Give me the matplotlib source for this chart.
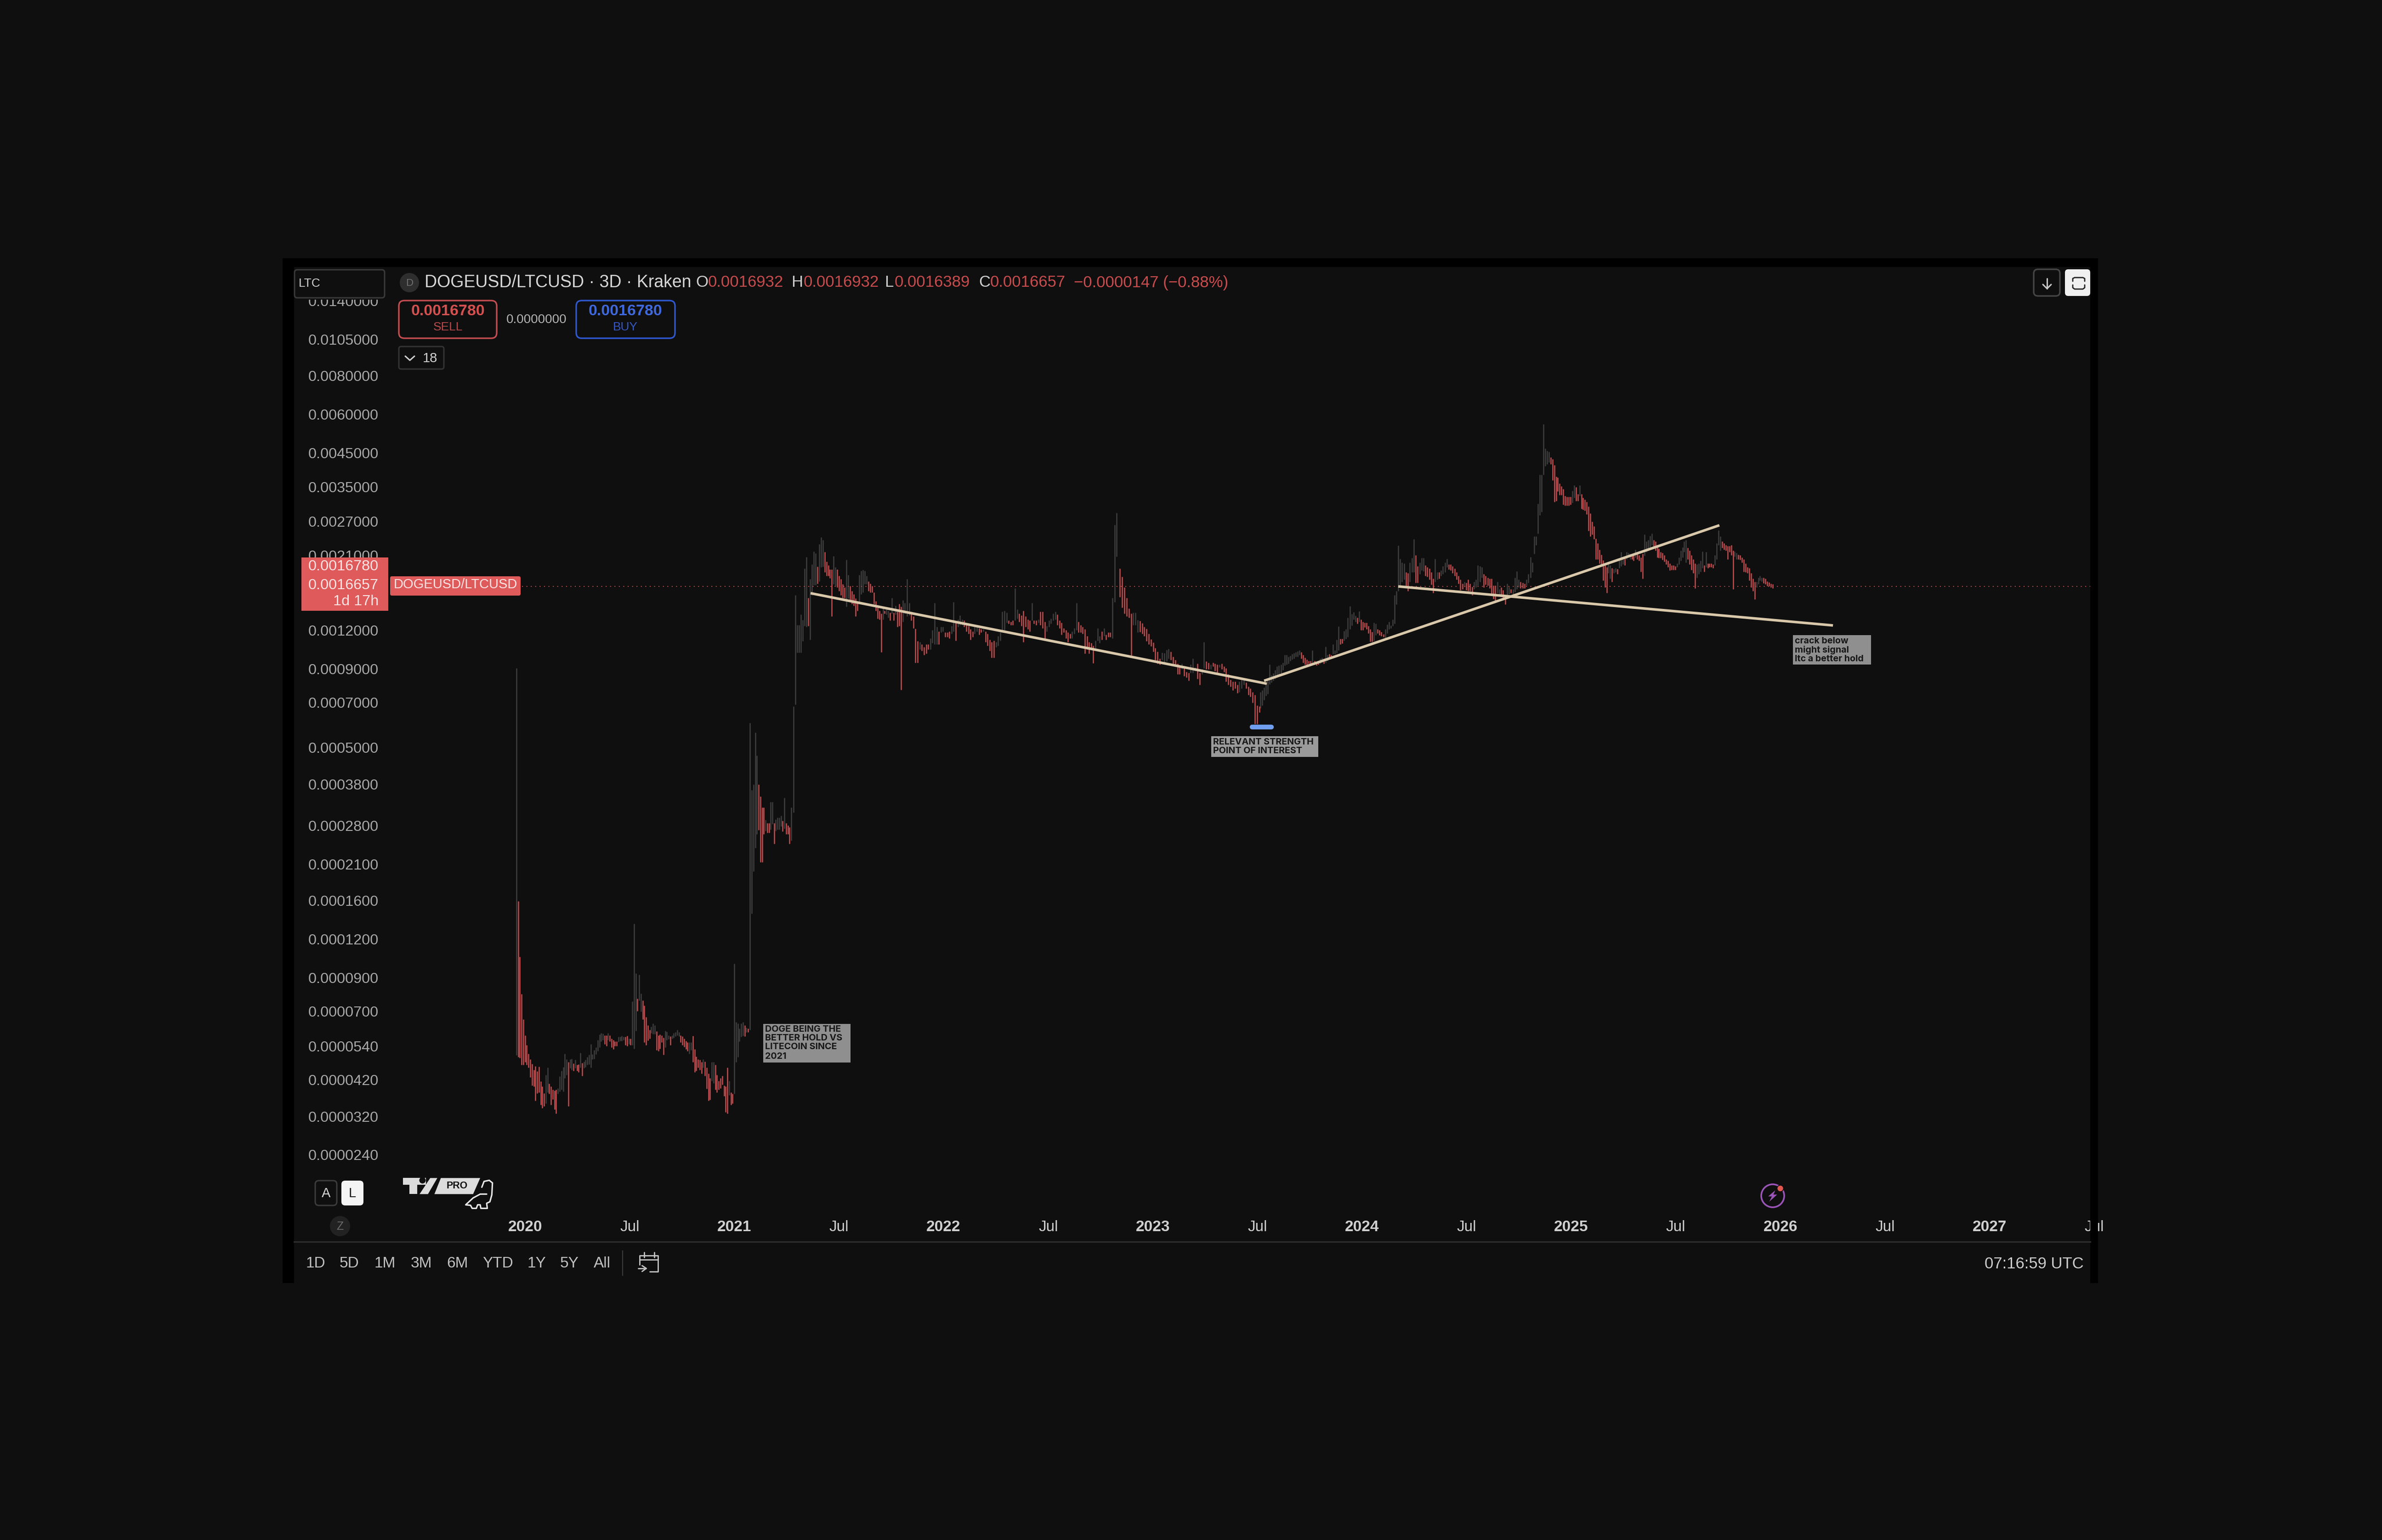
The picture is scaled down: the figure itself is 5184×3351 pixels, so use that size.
import numpy as np
import matplotlib
matplotlib.use("Agg")
import matplotlib.pyplot as plt
from matplotlib.patches import FancyBboxPatch, Rectangle, Circle, Polygon
from matplotlib.ticker import NullLocator, FixedLocator

plt.rcParams['font.family'] = ['Liberation Sans', 'DejaVu Sans']

# ---- price data: (high, low, is_red); prices in units of 1e-7 ----
PRICE_UNIT = 1e-7
era_a = [(9040,505,0),(1590,498,1),(1050,495,1),(795,470,1),(660,470,1),(585,480,1),(545,470,1),(510,460,1),(490,428,1),(473,402,1),(452,400,1),(465,360,1),(447,380,1),(463,382,1),(415,349,1),(400,340,1),(380,345,1),(435,352,0),(460,382,0),(408,378,1),(400,349,1),(391,363,1),(388,337,1),(391,327,1),(395,378,0),
(431,385,0),(450,390,0),(462,385,0),(510,425,0),(490,436,0),(480,345,1),(490,458,0),(492,452,0),(475,450,1),(487,458,0),(470,450,1),(472,445,1),(514,460,0),(477,432,1),(482,458,0),(487,462,0),(498,470,0),(507,472,0),(548,460,0),(508,490,0),(525,492,0),(535,508,0),(565,520,0),(590,535,0),(595,560,0),(593,565,0),(585,548,1),(585,540,1),(595,565,0),(585,560,1),(572,535,1),(565,527,1),(560,540,1),(560,540,1),(578,558,0),(578,562,0),(582,562,0),(578,566,0),(578,545,1),(582,540,1),(572,548,0),(572,545,1),(755,545,0),(1345,530,0),(930,605,0),(770,702,1),(920,760,0),(800,700,0),(760,660,1),(730,555,1),(672,545,1),(630,563,1),(610,572,1),(625,595,0),(640,592,0),(630,592,0),(603,525,1),(585,520,1),(590,530,1),(585,555,1),(575,506,1),(605,535,0),(602,565,0),(585,570,0),(580,545,1),(585,572,0),(595,575,0),(600,580,0),(610,585,0),(600,580,0),(585,555,1),(580,545,1),(572,537,1),(562,527,1),(555,520,1),(555,510,0),(555,525,0),(583,480,1),(527,445,1),(500,450,1),(490,460,1),(487,452,1),(480,440,1),(490,460,0),(482,432,1),(460,393,1),(440,360,1),(425,362,1),(480,417,0),(480,410,0),(470,390,1),(436,382,1),(417,390,1),(425,395,1),(432,405,1),(403,372,1),(400,330,1),(460,327,1),(417,375,0),(382,349,1),(378,352,1),(1000,378,0),(645,480,0),(640,498,0),(615,560,0),(640,578,0),(645,582,0),(630,580,1),(620,600,0),(615,600,1),(6010,610,0)]
era_b = [(3650,1450,0),(3800,1990,0),(5600,2370,0),(4720,2620,0),(3800,2710,1),(3470,2130,1),(3200,2130,1),(3200,2620,1),(2920,2690,0),(2850,2650,1),(2850,2650,1),(3330,2720,0),(3330,2830,0),(2850,2440,1),(2930,2690,0),(2970,2720,0),(2970,2720,0),(3010,2780,0),(2900,2680,1),(3440,2730,0),(2850,2620,1),(2800,2620,1),(2760,2440,1),(3200,2500,0)]
era_c1 = [(6800,3080,0),(15600,6900,0),(12490,10170,0),(12490,10170,0),(13500,10170,0),(12970,11070,0),(19000,12400,0),(20700,12300,0),(15300,12400,1),(17600,11200,0),(19600,15600,0),(21600,16800,0),(21300,16800,0),(19300,17000,1),(22800,17300,0),(24000,19200,0),(23500,19300,0),(21500,18500,1),(20000,18000,1),(19500,18000,1),(18900,17700,1),(18900,13300,1),(20900,16900,0),(19200,16700,0),(18900,16500,1),(18000,16100,1),(17600,15600,1),(16900,15300,1),(16500,15300,1),(20300,14300,0),(18100,15200,0),(16700,15000,1),(16100,14600,1),(15700,14400,1),(15200,13300,1),(14700,13900,1),(18100,14600,0),(18700,15700,0),(18800,15900,0),(18700,16900,0),(18000,16900,0),(17300,16100,1),(17000,15900,1),(16700,15900,1),(15900,14600,1),(14900,13900,1),(14200,13100,1),(13900,13000,1),(13600,10200,1),(14200,13000,0),(13900,13600,1),(14000,13500,0),(13900,13200,0),(13700,12900,1),(15300,13600,0),(13700,12900,1),(14400,13500,0),(13800,12300,1),(14600,12400,1),(14300,7700,1)]
era_c2 = [(15000,12800,0),(14700,13600,0),(17600,13300,0),(14700,13400,0),(13800,12900,1),(13300,12200,1),(12150,9420,1),(11060,9420,1),(11000,10400,0),(10800,10300,1),(10600,10000,1),(10800,10100,1),(10800,10400,1),(11300,10400,0),(12000,10900,0),(14700,10800,0),(12300,10800,0),(11900,10800,1),(12300,11800,0),(12300,11900,0),(11800,11400,1),(11800,11400,1),(11900,11300,1),(12400,11700,0),(14800,11900,0),(12700,11100,1),(13000,12300,0),(13400,12500,0),(13000,12500,0),(12900,12300,1),(12500,11900,1),(12400,11700,1),(12100,11200,1),(11900,11400,1),(12400,11700,0),(12300,11900,0),(12200,11600,1),(12100,11800,1),(12100,11900,0),(11900,11000,1),(11700,10700,1),(11200,10300,1),(11000,9800,1),(11100,9800,1),(11000,10600,0),(11500,10700,0),(11800,11100,0),(13800,11800,0),(13900,12000,0),(13700,12700,0),(12900,12600,1),(12800,12500,1),(12900,12500,1),(16400,12900,0),(14000,13100,0),(13600,12800,1),(13400,12400,1),(13900,11000,1),(13300,12300,1),(13000,12100,1),(12900,11900,1),(14700,12900,0),(12900,12600,1),(12900,12500,1),(13000,12700,0),(13800,12500,1),(13800,12200,1),(12800,11200,1),(12400,11900,0),(12900,12300,0),(13100,12600,0),(13600,12900,0),(13800,13000,0),(13500,12500,1),(12900,12200,1),(12700,11600,1),(12200,11800,1),(12000,11300,1),(11800,11000,1),(11700,11300,1),(11900,11300,0),(12200,11700,0),(14700,12000,0),(12800,11800,1),(12500,11800,1),(12300,11700,1),(12100,10100,1),(11500,10400,1),(11000,10100,1),(10900,10400,1),(10700,9400,1),(11100,10500,0),(12200,11100,0),(11500,10900,0),(11900,11200,1),(12200,11500,0),(11600,11200,1),(11800,11400,1),(11800,11400,1),(15300,11300,0),(26300,14800,0),(28800,20800,0)]
era_c3 = [(19000,15400,1),(17900,14200,1),(16500,13600,1),(15300,13300,1),(14100,13200,1),(13600,9950,1),(13700,12500,0),(13700,12500,0),(12970,11800,0),(12880,11870,1),(12650,11700,1),(12300,11500,1),(12150,11060,1),(11700,10800,1),(11230,10660,1),(10950,10240,1),(10520,9610,1),(10240,9360,1),(9720,9300,1),(10170,9610,0),(10130,9460,0),(10380,9520,0),(10450,9720,0),(10240,9610,1),(9850,9360,1),(9610,9170,1),(9360,8650,1),(9240,8650,1),(9360,8980,0),(9050,8540,1),(8800,8430,1),(8740,8250,1),(9300,8740,0),(9720,8740,0),(9110,8860,0),(9360,8360,1),(8740,8000,1),(8980,8650,0),(10980,9050,0),(9520,8980,1),(9420,8980,1),(9300,8980,0),(9420,9170,1),(9360,8860,1),(9300,8740,1),(9300,9110,0),(9360,8980,1),(9170,8800,1),(9050,8200,1),(8650,8000,1),(8310,7890,1),(8200,7680,1),(8200,7780,1),(8000,7520,1),(8200,7570,0),(8310,7780,0),(8360,8000,0),(8130,7780,1),(7890,7400,1),(7780,7300,1),(7570,7000,1),(7400,5980,1),(6850,5980,1),(6810,6510,1)]
era_d1 = [(7570,6720,0),(7680,6860,0),(7840,7150,0),(8030,7370,0),(8250,7470,0),(9300,8030,0),(8600,8130,0),(8710,8250,0),(8920,8360,0),(9170,8490,0),(9240,8600,0),(9300,8710,0),(9420,8920,0),(9990,9240,0),(9990,9300,0),(9850,9360,0),(9920,9550,0),(10060,9640,0),(10130,9720,0),(10200,9850,0),(10270,9850,0),(10340,9990,0),(10200,9720,1),(9990,9420,1),(9790,9300,1),(9640,9240,1),(9550,9360,1),(9550,9300,1),(10340,9360,0),(9550,9300,1),(9490,9240,1),(9420,9300,1),(9720,9360,0),(9790,9420,0),(9720,9360,1),(10620,9420,0),(9990,9550,0),(10060,9790,1),(9990,9720,1),(10800,10060,0),(10340,10060,0),(11180,10130,0),(12340,10340,0),(11270,10800,1),(11270,10880,1),(11950,11100,0),(12110,11270,0),(13200,11430,0),(14370,12110,0),(13560,12450,0),(13750,13000,0),(13370,12790,0),(13200,12620,1),(13840,12790,0),(13000,12030,1),(12790,12030,1),(12700,12280,1),(12700,12110,1),(12380,11740,1),(12110,11040,1),(11860,11040,1),(12700,11120,0),(12620,11580,0),(12110,11740,1),(12030,11580,1),(11860,11500,1),(11660,11430,1),(12110,11350,0),(12530,11740,0),(12790,12110,0),(12450,12200,0),(13000,12380,0),(15590,12620,0),(16100,14570,0)]
era_d2 = [(22550,16100,0),(20460,16770,0),(19890,17200,0),(19760,17530,0),(18510,16610,1),(18400,16100,1),(19890,17200,0),(20600,18510,0),(23700,18510,0),(21000,17110,1),(19350,17110,1),(19890,18260,0),(20600,18770,0),(20600,18650,0),(19490,18000,1),(19220,17900,1),(19040,17530,1),(18510,16880,1),(17650,15870,1),(20460,17200,0),(18510,17530,0),(18510,17650,1),(18770,18000,0),(19350,18260,0),(19890,18510,0),(20460,19220,0),(19630,18900,1),(19630,18770,1),(19350,18400,1),(19040,18000,1),(18510,17530,1),(18000,17000,1),(17530,16200,1),(17000,16300,1),(17200,16610,0),(17110,16200,1),(17530,16100,1),(17000,16100,1),(16610,15590,1),(17200,16300,0),(17530,16500,0),(19490,16770,0),(19350,17200,0),(19220,17760,0),(18260,16500,1),(18000,16880,1),(17760,16770,1),(17650,16420,1),(17650,15590,1),(16770,15170,1),(16770,14970,1),(17200,15870,0),(16300,15590,0),(16500,15480,1),(16200,15170,1),(15590,14570,1),(17000,15590,0),(16610,15700,0),(16300,15870,1),(16300,15590,0),(17760,15980,0),(18650,16300,0),(17530,16500,0),(17200,16420,1),(17110,16420,1),(17000,16420,1),(17530,16770,0),(18260,17110,0),(20730,17760,0),(19890,18510,0)]
era_e = [(24150,21250,0),(24150,22650,0),(30800,24660,0),(38300,28300,0),(38300,29000,0),(55800,38300,0),(46500,40800,0),(45700,41400,0),(45400,42000,0),(43600,41400,1),(43000,36700,1),(41100,31300,1),(37700,31500,1),(37500,33800,1),(35900,32900,1),(35100,32900,1),(34400,30600,1),(32700,30400,1),(32500,30400,1),(32500,30400,1),(32500,30600,1),(33900,31000,0),(35400,32200,0),(34900,31500,1),(33100,31500,1),(35400,32700,0),(33100,29700,1),(32200,29500,1),(31800,29300,1),(31300,28500,1),(30200,25200,1),(28700,24150,1),(27000,24500,1),(26100,23650,1),(23800,20400,1),(22950,20400,1),(21900,19750,1),(21100,19350,1),(20250,17400,1),(19630,16500,1),(19220,15870,1),(19750,18400,0),(19490,17650,0),(19100,17200,1),(18970,18400,0),(19100,18500,0),(18970,18260,1),(20400,19100,0),(21500,19350,0),(20670,19630,0),(20670,19490,1),(21500,20400,0),(21400,20670,0),(21250,20400,0),(21100,20400,1),(21000,20150,1),(21900,20670,0),(21250,20400,1),(21000,20150,1),(20670,18600,1),(21250,17650,1),(24500,20950,0),(23300,21500,0),(23500,21750,0),(24300,22300,0),(24660,22650,0),(23500,22050,1),(23250,21750,1),(22650,20670,1),(22050,20550,1),(21500,20550,1),(21400,20300,1),(21000,20050,1),(20400,19630,1),(20150,19220,1),(19750,18750,1),(19490,18850,1),(19490,18800,1),(19350,18800,1),(19750,19220,0),(20670,19630,0),(21750,20150,0),(22300,20670,0),(23250,21500,0),(23500,19900,0),(22200,20400,1),(21750,19630,1),(21000,18850,1),(20400,18400,1),(19750,16420,1),(19630,17760,0),(19750,18260,0),(20150,18600,0),(21600,19100,0),(19490,18600,1),(21500,19220,0),(19750,19100,1),(19750,19220,1),(19750,19220,1),(19630,19100,1),(21000,19490,0),(22950,20400,0),(25300,22650,0),(24150,21750,0),(23300,22200,1),(22950,21900,1),(22650,21750,1),(22500,20400,1),(22500,21500,1),(22650,21000,1),(21750,16300,1),(21600,20800,0),(21400,20400,0),(21100,20400,1),(21000,20300,1),(20670,19900,1),(20400,18600,1),(19750,18500,1),(19220,18400,1),(19100,17400,1),(18400,16500,1),(17650,16100,1),(17200,15100,1),(17200,16500,0),(17760,16900,0),(18000,17400,0),(17760,17300,0),(17760,17050,1),(17650,16900,1),(17300,16700,1),(17150,16700,1),(17000,16500,1),(16900,16420,1)]

# date span (decimal years) of each run of 3-day bars
era_list = [era_a, era_b, era_c1, era_c2, era_c3, era_d1, era_d2, era_e]
era_spans = [(2019.958, 2021.074), (2021.083, 2021.272), (2021.283, 2021.797), (2021.805, 2022.827),
             (2022.843, 2023.509), (2023.514, 2024.164), (2024.173, 2024.814), (2024.824, 2025.963)]

last_price = 0.0016657
trend_lines = [((2021.364, 2023.545), (0.001582, 0.0008055)),
               ((2023.532, 2025.708), (0.0008235, 0.002625)),
               ((2024.173, 2026.251), (0.001664, 0.001244))]
pill_years = (2023.475, 2023.567)
pill_price = 0.000583

y_ticks = [0.014, 0.0105, 0.008, 0.006, 0.0045, 0.0035, 0.0027, 0.0021, 0.0012, 0.0009, 0.0007, 0.0005,
           0.00038, 0.00028, 0.00021, 0.00016, 0.00012, 0.00009, 0.00007, 0.000054, 0.000042, 0.000032, 0.000024]
x_ticks = [2020 + 0.5 * i for i in range(16)]
x_labels = ['2020', 'Jul', '2021', 'Jul', '2022', 'Jul', '2023', 'Jul', '2024', 'Jul', '2025', 'Jul', '2026', 'Jul', '2027', 'Jul']
range_buttons = ['1D', '5D', '1M', '3M', '6M', 'YTD', '1Y', '5Y', 'All']

BG = '#0f0f0f'
RED = '#c44d50'
GRAY = '#3e3e3e'
TAG = '#df5a5a'
LINE = '#d9c8aa'
W, H = 5184, 3351
fig = plt.figure(figsize=(W / 100, H / 100), dpi=100, facecolor=BG)

def px_axes(z):
    a = fig.add_axes([0, 0, 1, 1], zorder=z)
    a.set_xlim(0, W); a.set_ylim(H, 0); a.axis('off')
    a.patch.set_alpha(0)
    return a

under = px_axes(0)
under.add_patch(Rectangle((615, 562), 3951, 2230, fc='#000000', ec='none'))
under.add_patch(Rectangle((640, 581), 3909, 2215, fc=BG, ec='none'))

# ---- main chart ----
ax = fig.add_axes([845 / W, 1 - 2640 / H, (4566 - 845) / W, 2000 / H], zorder=1)
ax.patch.set_alpha(0)
ax.set_yscale('log')
ax.set_xlim(2019.3455, 2027.518)
ax.set_ylim(1.553e-5, 0.014714)
for s in ax.spines.values():
    s.set_visible(False)

for era, span in zip(era_list, era_spans):
    arr = np.array(era, dtype=float)
    xs = np.linspace(span[0], span[1], len(arr))
    hi, lo, red = arr[:, 0] * PRICE_UNIT, arr[:, 1] * PRICE_UNIT, arr[:, 2] > 0
    ax.vlines(xs[~red], lo[~red], hi[~red], color=GRAY, lw=1.8, zorder=2)
    ax.vlines(xs[red], lo[red], hi[red], color=RED, lw=1.8, zorder=3)

ax.plot([2019.985, 2027.518], [last_price, last_price], color='#b84a4a', lw=1.5,
        ls=(0, (1, 3.6)), zorder=4)
for xs_, ys_ in trend_lines:
    ax.plot(xs_, ys_, color=LINE, lw=4.0, solid_capstyle='butt', zorder=5)
ax.plot(pill_years, [pill_price, pill_price], color='#6f9fee', lw=7.5, solid_capstyle='round', zorder=5)

ax.yaxis.set_major_locator(FixedLocator(y_ticks))
ax.yaxis.set_minor_locator(NullLocator())
ax.set_yticklabels(['%.7f' % v for v in y_ticks])
ax.tick_params(axis='y', length=0, pad=15, labelsize=23.3, labelcolor='#a9a9a9')
ax.set_xticks(x_ticks)
ax.set_xticklabels(x_labels)
ax.tick_params(axis='x', length=0, pad=11, labelsize=24, labelcolor='#cfcfcf')
for lab in ax.get_xticklabels():
    if lab.get_text() != 'Jul':
        lab.set_fontweight('bold')

# ---- interface overlay, in pixels ----
ui = px_axes(2)

def rr(x0, y0, x1, y1, r=8, fc='none', ec='none', lw=0):
    ui.add_patch(FancyBboxPatch((x0, y0), x1 - x0, y1 - y0, boxstyle='round,pad=0,rounding_size=%g' % r,
                                fc=fc, ec=ec, lw=lw))

def t(x, y, s, size=24, color='#d1d1d1', ha='center', weight='normal', family=None):
    kw = {'family': family} if family else {}
    ui.text(x, y, s, fontsize=size, color=color, ha=ha, va='center', fontweight=weight, **kw)

def pl(pts, color, lw):
    xy = np.array(pts)
    ui.plot(xy[:, 0], xy[:, 1], color=color, lw=lw, solid_capstyle='round', solid_joinstyle='round')

z6 = lambda zx, zy: (610 + zx / 1.425, 2500 + zy / 3)

ui.add_patch(Rectangle((640, 581), 215, 71, fc=BG, ec='none'))
ui.add_patch(Rectangle((4549, 562), 17, 2230, fc='#000000', ec='none'))

# top bar
rr(641, 587, 837, 648, 6, ec='#3a3a3a', lw=2.2)
t(650, 617, 'LTC', 19, '#cfcfcf', ha='left')
ui.add_patch(Circle((891, 615), 21, fc='#2e2e2e', ec='none'))
t(891, 616, 'D', 16, '#707070')
t(924, 615, 'DOGEUSD/LTCUSD · 3D · Kraken', 27, '#d6d6d6', ha='left')
OHLC_RED = '#c94b4d'
for lx, lab, vx, val in [(1514, 'O', 1541, '0.0016932'), (1722, 'H', 1749, '0.0016932'),
                         (1925, 'L', 1947, '0.0016389'), (2130, 'C', 2155, '0.0016657')]:
    t(lx, 615, lab, 25, '#cfcfcf', ha='left')
    t(vx, 615, val, 25, OHLC_RED, ha='left')
t(2337, 615, '−0.0000147 (−0.88%)', 25, OHLC_RED, ha='left')

# trade buttons
rr(868, 654, 1081, 736, 12, ec='#c44d50', lw=2.4)
t(975, 678, '0.0016780', 24.5, '#d4504f', weight='bold')
t(975, 712, 'SELL', 19, '#b8484a')
t(1168, 696, '0.0000000', 20, '#b5b5b5')
rr(1254, 654, 1469, 736, 12, ec='#2f58d0', lw=2.4)
t(1361, 678, '0.0016780', 24.5, '#3f68dc', weight='bold')
t(1361, 712, 'BUY', 19, '#3557c4')
rr(868, 754, 966, 803, 5, ec='#333333', lw=2.2)
pl([(882, 775), (892, 784), (902, 775)], '#cfcfcf', 2.2)
t(936, 780, '18', 21, '#cfcfcf')

# right top buttons
rr(4426, 586, 4483, 644, 9, ec='#454545', lw=2.4)
pl([(4455, 606), (4455, 628)], '#c8c8c8', 2.2)
pl([(4446, 619), (4455, 628), (4464, 619)], '#c8c8c8', 2.2)
rr(4494, 586, 4549, 644, 7, fc='#f0f0f0')
pl([(4511, 612), (4511, 606), (4515, 604), (4533, 604), (4537, 606), (4537, 612)], '#222222', 2.0)
pl([(4511, 620), (4511, 626), (4515, 629), (4533, 629), (4537, 626), (4537, 620)], '#222222', 2.0)

# price tags
ui.add_patch(Rectangle((656, 1213), 189, 116, fc=TAG, ec='none'))
t(824, 1233, '0.0016780', 23.3, '#f8e4e4', ha='right')
t(824, 1274, '0.0016657', 23.3, '#f8e4e4', ha='right')
t(824, 1309, '1d 17h', 23.3, '#f8e4e4', ha='right')
rr(849, 1254, 1133, 1296, 4, fc=TAG)
t(991, 1272, 'DOGEUSD/LTCUSD', 21, '#f8e4e4')

# notes
NOTE_BG = '#8f8f8f'
NOTE_FG = '#171717'
ui.add_patch(Rectangle((1661, 2228), 190, 84, fc=NOTE_BG, ec='none'))
for yy, line in zip([2240, 2259, 2278, 2299], ['DOGE BEING THE', 'BETTER HOLD VS', 'LITECOIN SINCE', '2021']):
    t(1665, yy, line, 14.2, NOTE_FG, ha='left', weight='bold', family='Inter')
ui.add_patch(Rectangle((2636, 1602), 233, 45, fc='#9a9a9a', ec='none'))
for yy, line in zip([1615, 1634], ['RELEVANT STRENGTH', 'POINT OF INTEREST']):
    t(2640, yy, line, 14.2, NOTE_FG, ha='left', weight='bold', family='Inter')
ui.add_patch(Rectangle((3902, 1382), 170, 64, fc=NOTE_BG, ec='none'))
for yy, line in zip([1395, 1414, 1434], ['crack below', 'might signal', 'ltc a better hold']):
    t(3906, yy, line, 14.2, NOTE_FG, ha='left', weight='bold', family='Inter')

# bottom-left controls
rr(686, 2569, 733, 2623, 8, ec='#3c3c3c', lw=2.2)
t(710, 2597, 'A', 21, '#d5d5d5')
rr(743, 2569, 791, 2623, 8, fc='#f4f4f4')
t(767, 2597, 'L', 21, '#1a1a1a')
LOGO = '#dcdcdc'
ui.add_patch(Polygon([z6(380, 190), z6(452, 190), z6(452, 235), z6(425, 235), z6(425, 295), z6(400, 295),
                      z6(400, 235), z6(380, 235)], fc=LOGO, ec='none'))
ui.add_patch(Circle(z6(441, 205), 7, fc='#0f0f0f', ec='none'))
ui.add_patch(Polygon([z6(465, 190), z6(487, 190), z6(458, 295), z6(432, 295)], fc=LOGO, ec='none'))
ui.add_patch(Polygon([z6(498, 190), z6(620, 190), z6(598, 295), z6(478, 295)], fc=LOGO, ec='none'))
t(z6(548, 243)[0], z6(548, 243)[1], 'PRO', 15.5, '#111111', weight='bold')
pl([z6(*p) for p in [(625, 250), (632, 212), (648, 205), (658, 222), (656, 300), (650, 345), (640, 355),
                     (642, 388), (622, 388), (620, 365), (612, 365), (608, 388), (595, 388), (590, 368),
                     (575, 365), (598, 320), (620, 295), (640, 295)]], '#e6e6e6', 2.3)
ui.add_patch(Circle((740, 2668), 22, fc='#222222', ec='none'))
t(740, 2669, 'Z', 18, '#6a6a6a')

# purple icon
ui.add_patch(Circle((3858, 2602), 25, fc='none', ec='#9a54b8', lw=2.6))
ui.add_patch(Polygon([(3700 + a / 1.742, 2500 + b / 3) for a, b in
                      [(285, 270), (258, 310), (272, 310), (262, 345), (292, 298), (278, 298)]],
                     fc='#9a54b8', ec='none'))
ui.add_patch(Circle((3874.5, 2586), 7, fc='#e4574f', ec=BG, lw=1.2))

# bottom bar
ui.plot([640, 4549], [2702, 2702], color='#2f2f2f', lw=2.2)
for bx, s in zip([687, 760, 838, 917, 996, 1084, 1168, 1239, 1310], range_buttons):
    t(bx, 2750, s, 24, '#c0c0c0')
ui.plot([1355, 1355], [2722, 2775], color='#3a3a3a', lw=1.6)
CAL = '#c4c4c4'
pl([z6(1115, 755), z6(1115, 695), z6(1172, 695), z6(1172, 800), z6(1145, 800)], CAL, 2.0)
pl([z6(1115, 722), z6(1172, 722)], CAL, 2.0)
pl([z6(1128, 675), z6(1128, 708)], CAL, 2.0)
pl([z6(1160, 675), z6(1160, 708)], CAL, 2.0)
pl([z6(1110, 780), z6(1135, 780)], CAL, 2.0)
pl([z6(1122, 762), z6(1135, 780), z6(1122, 800)], CAL, 2.0)
t(4535, 2750, '07:16:59 UTC', 25, '#cccccc', ha='right')

fig.savefig('out.png', dpi=100, facecolor=BG)
